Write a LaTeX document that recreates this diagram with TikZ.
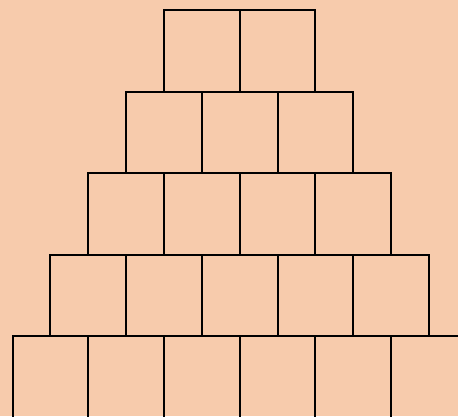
\documentclass[tikz,border=0pt]{standalone}
\definecolor{peach}{HTML}{F7CBAC}
\begin{document}
\begin{tikzpicture}[x=1pt,y=-1pt,
  brick/.style={draw=black,line width=2pt}]
\fill[peach] (0,0) rectangle (458,416);
\useasboundingbox (0,0) rectangle (458,416);
\clip (0,0) rectangle (458,416);
\foreach \r in {0,...,4}{
  \pgfmathsetmacro{\n}{int(\r+2)}
  \foreach \k in {1,...,\n}{
    \pgfmathsetmacro{\xa}{164-37.85*\r+75.7*(\k-1)}
    \pgfmathsetmacro{\ya}{10+81.5*\r}
    \draw[brick] (\xa,\ya) rectangle ++(75.7,81.5);
  }
}
\end{tikzpicture}
\end{document}
